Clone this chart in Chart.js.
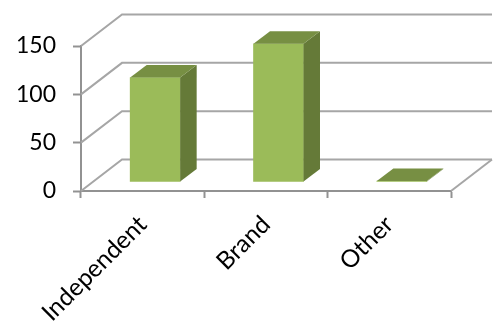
<!DOCTYPE html>
<html>
<head>
<meta charset="utf-8">
<style>
  html, body { margin: 0; padding: 0; background: #fff; }
  canvas { display: block; }
</style>
<script src="https://cdn.jsdelivr.net/npm/chart.js@4/dist/chart.umd.min.js"></script>
</head>
<body>
<canvas id="chart" width="494" height="322"></canvas>
<script>
const categories = ['Independent', 'Brand', 'Other'];
const counts = [108, 143, 1];
const yTicks = [0, 50, 100, 150];

const GRID = '#a6a6a6';
const AXIS = '#929292';

// depth of the box the chart sits in, and how far back the bars stand
const WALL_X = 41, WALL_Y = -31.5;
const BAR_X = 12.5, BAR_Y = -9;
const BAR_DEPTH_X = 16.5, BAR_DEPTH_Y = -12.5;

function poly(ctx, pts, fill) {
  ctx.beginPath();
  pts.forEach(function(p, i) {
    if (i === 0) ctx.moveTo(p[0], p[1]);
    else ctx.lineTo(p[0], p[1]);
  });
  ctx.closePath();
  ctx.fillStyle = fill;
  ctx.fill();
}

const box3d = {
  id: 'box3d',
  beforeDatasetsDraw: function(chart) {
    const ctx = chart.ctx;
    const area = chart.chartArea;
    const y = chart.scales.y;
    ctx.save();
    ctx.lineWidth = 2;
    ctx.strokeStyle = GRID;
    yTicks.forEach(function(v) {
      const py = y.getPixelForValue(v);
      ctx.beginPath();
      ctx.moveTo(area.left, py);
      ctx.lineTo(area.left + WALL_X, py + WALL_Y);
      ctx.lineTo(area.right + WALL_X, py + WALL_Y);
      ctx.stroke();
    });
    // right edge of the floor
    ctx.beginPath();
    ctx.moveTo(area.right, area.bottom);
    ctx.lineTo(area.right + WALL_X, area.bottom + WALL_Y);
    ctx.stroke();
    ctx.restore();

    // bars stand a little behind the front axis
    ctx.save();
    ctx.translate(BAR_X, BAR_Y);
  },
  afterDatasetsDraw: function(chart) {
    const ctx = chart.ctx;
    chart.getDatasetMeta(0).data.forEach(function(bar) {
      const half = bar.width / 2;
      const l = bar.x - half, r = bar.x + half;
      const t = bar.y, b = bar.base;
      const dx = BAR_DEPTH_X, dy = BAR_DEPTH_Y;
      poly(ctx, [[r, t], [r + dx, t + dy], [r + dx, b + dy], [r, b]], '#657a38');
      poly(ctx, [[l, t], [l + dx, t + dy], [r + dx, t + dy], [r, t]], '#778f43');
    });
    ctx.restore();
  }
};

new Chart(document.getElementById('chart').getContext('2d'), {
  type: 'bar',
  data: {
    labels: categories,
    datasets: [{
      data: counts,
      backgroundColor: '#9bbb59',
      borderWidth: 0,
      barThickness: 50
    }]
  },
  options: {
    responsive: false,
    animation: false,
    layout: { padding: { top: 46, right: 43 } },
    plugins: { legend: { display: false }, tooltip: { enabled: false } },
    scales: {
      x: {
        afterFit: function(scale) { scale.height = 131; },
        grid: { drawOnChartArea: false, color: AXIS, tickColor: AXIS, tickLength: 7, tickWidth: 2 },
        border: { color: AXIS, width: 2 },
        ticks: {
          color: '#000',
          font: { family: 'Lato', size: 24.5 },
          maxRotation: 45,
          minRotation: 45,
          padding: 12
        }
      },
      y: {
        min: 0,
        max: 150,
        afterFit: function(scale) { scale.width = 81; },
        afterBuildTicks: function(scale) {
          scale.ticks = yTicks.map(function(v) { return { value: v }; });
        },
        grid: { drawOnChartArea: false, color: AXIS, tickColor: AXIS, tickLength: 8, tickWidth: 2 },
        border: { color: AXIS, width: 2 },
        ticks: {
          color: '#000',
          font: { family: 'Lato', size: 23 },
          padding: 17
        }
      }
    }
  },
  plugins: [box3d]
});
</script>
</body>
</html>
